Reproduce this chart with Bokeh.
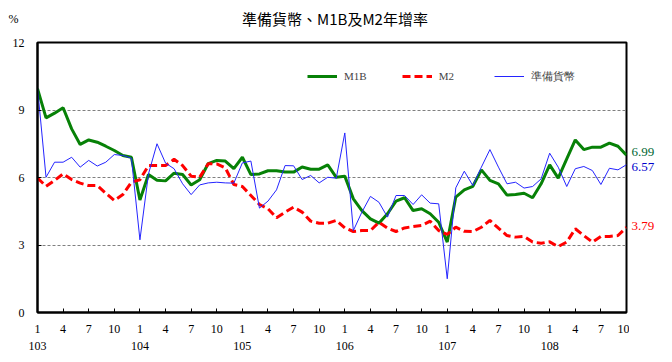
from bokeh.plotting import figure
from bokeh.models import Range1d, FixedTicker, LinearAxis, Legend, LegendItem, ColumnDataSource
from bokeh.layouts import column, row
from bokeh.core.properties import value
from bokeh.embed import file_html
from bokeh.resources import INLINE

title_text = "準備貨幣、M1B及M2年增率"
unit_text = "%"
years = ["103", "104", "105", "106", "107", "108"]
month_ticks = ["1", "4", "7", "10"]

m1b = [9.95, 8.65, 8.86, 9.10, 8.16, 7.47, 7.67, 7.57, 7.39, 7.20, 6.98, 6.90,
       5.00, 6.13, 5.88, 5.85, 6.19, 6.13, 5.67, 5.90, 6.62, 6.76, 6.73, 6.39,
       6.90, 6.13, 6.16, 6.30, 6.30, 6.24, 6.24, 6.47, 6.37, 6.37, 6.56, 6.01,
       6.06, 5.05, 4.53, 4.16, 3.97, 4.39, 4.95, 5.10, 4.53, 4.61, 4.39, 4.01,
       3.13, 5.13, 5.45, 5.61, 6.34, 5.87, 5.72, 5.22, 5.24, 5.30, 5.10, 5.72,
       6.56, 5.97, 6.83, 7.67, 7.24, 7.35, 7.35, 7.53, 7.39, 6.99]

m2 = [5.98, 5.61, 5.87, 6.16, 5.91, 5.75, 5.64, 5.64, 5.30, 4.98, 5.24, 5.79,
      5.90, 6.53, 6.53, 6.53, 6.81, 6.53, 6.06, 6.01, 6.61, 6.61, 6.43, 5.69,
      5.60, 5.20, 4.80, 4.61, 4.21, 4.46, 4.68, 4.46, 4.06, 3.97, 3.97, 4.09,
      3.76, 3.60, 3.64, 3.64, 4.01, 3.75, 3.60, 3.76, 3.82, 3.87, 4.06, 3.64,
      3.47, 3.79, 3.61, 3.60, 3.79, 4.09, 3.75, 3.42, 3.35, 3.38, 3.13, 3.08,
      3.14, 2.93, 3.13, 3.72, 3.42, 3.13, 3.38, 3.38, 3.42, 3.79]

reserve = [10.0, 6.01, 6.68, 6.68, 6.90, 6.46, 6.76, 6.51, 6.68, 7.02, 6.98, 6.86,
           3.23, 6.16, 7.50, 6.64, 6.39, 5.72, 5.24, 5.67, 5.76, 5.79, 5.76, 5.75,
           6.65, 6.73, 4.64, 4.95, 5.45, 6.53, 6.52, 5.91, 6.09, 5.76, 6.01, 5.97,
           7.98, 3.64, 4.46, 5.16, 4.90, 4.24, 5.20, 5.20, 4.80, 5.23, 4.86, 4.83,
           1.50, 5.54, 6.28, 5.64, 6.46, 7.24, 6.46, 5.72, 5.79, 5.53, 5.60, 5.94,
           7.08, 6.46, 5.60, 6.39, 6.49, 6.31, 5.69, 6.41, 6.34, 6.57]

y_ticks = [0, 3, 6, 9, 12]

n = len(m1b)
x = list(range(n))

FRAME_W, FRAME_H = 589, 270
LEFT, RIGHT_GAP, TOP, BOTTOM = 37, 3, 12, 46
TOP_H, SIDE_W = 30, 41
SERIF = "Liberation Serif"

# ---- main plot ----
p = figure(frame_width=FRAME_W, frame_height=FRAME_H,
           x_range=Range1d(0, n - 1), y_range=Range1d(0, 12),
           output_backend="svg", toolbar_location=None,
           min_border_left=LEFT, min_border_right=RIGHT_GAP,
           min_border_top=TOP, min_border_bottom=BOTTOM,
           background_fill_color="white", border_fill_color="white")

p.outline_line_color = "black"
p.outline_line_width = 2

ticks = []
overrides = {}
for i in x:
    m = str(i % 12 + 1)
    if m in month_ticks:
        ticks.append(i)
        overrides[i] = m
p.xaxis.ticker = FixedTicker(ticks=ticks)
p.xaxis.major_label_overrides = overrides
p.xaxis.axis_line_width = 2
p.xaxis.major_tick_in = 4
p.xaxis.major_tick_out = 0
p.xaxis.minor_tick_line_color = None
p.xaxis.major_label_standoff = 12
p.xaxis.major_label_text_font = SERIF
p.xaxis.major_label_text_font_size = "12px"
p.xaxis.major_label_text_color = "black"

year_ticks = [i for i in x if i % 12 == 0]
ax2 = LinearAxis(ticker=FixedTicker(ticks=year_ticks),
                 major_label_overrides={t: years[k] for k, t in enumerate(year_ticks)},
                 axis_line_color=None, major_tick_line_color=None, minor_tick_line_color=None,
                 major_label_standoff=0, major_label_text_font=SERIF,
                 major_label_text_font_size="12px", major_label_text_color="black")
p.add_layout(ax2, "below")

p.yaxis.ticker = FixedTicker(ticks=y_ticks)
p.yaxis.axis_line_width = 2
p.yaxis.major_tick_in = 4
p.yaxis.major_tick_out = 0
p.yaxis.minor_tick_line_color = None
p.yaxis.major_label_standoff = 13
p.yaxis.major_label_text_font = SERIF
p.yaxis.major_label_text_font_size = "12px"
p.yaxis.major_label_text_color = "black"

p.xgrid.visible = False
p.ygrid.grid_line_color = "#808080"
p.ygrid.grid_line_dash = "3 2"
p.ygrid.grid_line_width = 1

r_m1b = p.line(x, m1b, line_color="#078107", line_width=3)
r_m2 = p.line(x, m2, line_color="#FF0000", line_width=3, line_dash="8 4")
r_res = p.line(x, reserve, line_color="#2424FF", line_width=1)

legend = Legend(items=[LegendItem(label="M1B", renderers=[r_m1b]),
                       LegendItem(label="M2", renderers=[r_m2]),
                       LegendItem(label="準備貨幣", renderers=[r_res])],
                orientation="horizontal", location=(270, 226),
                border_line_color=None, background_fill_alpha=0,
                label_text_font=SERIF, label_text_font_size="11px",
                glyph_width=30, glyph_height=20, spacing=35, padding=0, margin=0,
                label_standoff=7)
p.add_layout(legend)

# ---- right strip with end-of-series values ----
pr = figure(width=SIDE_W, frame_height=FRAME_H,
            x_range=Range1d(0, 1), y_range=p.y_range,
            output_backend="svg", toolbar_location=None,
            min_border_left=0, min_border_right=0,
            min_border_top=TOP, min_border_bottom=p.min_border_bottom,
            x_axis_location=None, y_axis_location=None,
            background_fill_color="white", border_fill_color="white")
pr.outline_line_color = None
pr.grid.visible = False
end_src = ColumnDataSource(dict(
    x=[0, 0, 0],
    y=[m1b[-1], reserve[-1], m2[-1]],
    t=["%.2f" % m1b[-1], "%.2f" % reserve[-1], "%.2f" % m2[-1]],
    c=["#006633", "#0000CC", "#FF0000"],
    dy=[-3, 2, -1],
))
pr.text(x="x", y="y", text="t", source=end_src, text_color="c", y_offset="dy",
        x_offset=2, text_baseline="middle", text_align="left",
        text_font=value(SERIF), text_font_size="13px")

# ---- top strip with title and unit ----
total_w = LEFT + FRAME_W + RIGHT_GAP + SIDE_W
pt = figure(width=total_w, height=TOP_H,
            x_range=Range1d(0, total_w), y_range=Range1d(0, TOP_H),
            output_backend="svg", toolbar_location=None,
            min_border_left=0, min_border_right=0, min_border_top=0, min_border_bottom=0,
            x_axis_location=None, y_axis_location=None,
            background_fill_color="white", border_fill_color="white")
pt.outline_line_color = None
pt.grid.visible = False
pt.text(x=[LEFT + FRAME_W / 2 + 3], y=[TOP_H - 18], text=[title_text],
        text_align="center", text_baseline="middle",
        text_font=value("Noto Sans CJK TC"), text_font_size="15px", text_color="black")
pt.text(x=[13], y=[TOP_H - 18], text=[unit_text],
        text_align="center", text_baseline="middle",
        text_font=value(SERIF), text_font_size="12px", text_color="black")

layout = column(pt, row(p, pr))
open("out.html", "w").write(file_html(layout, INLINE))
